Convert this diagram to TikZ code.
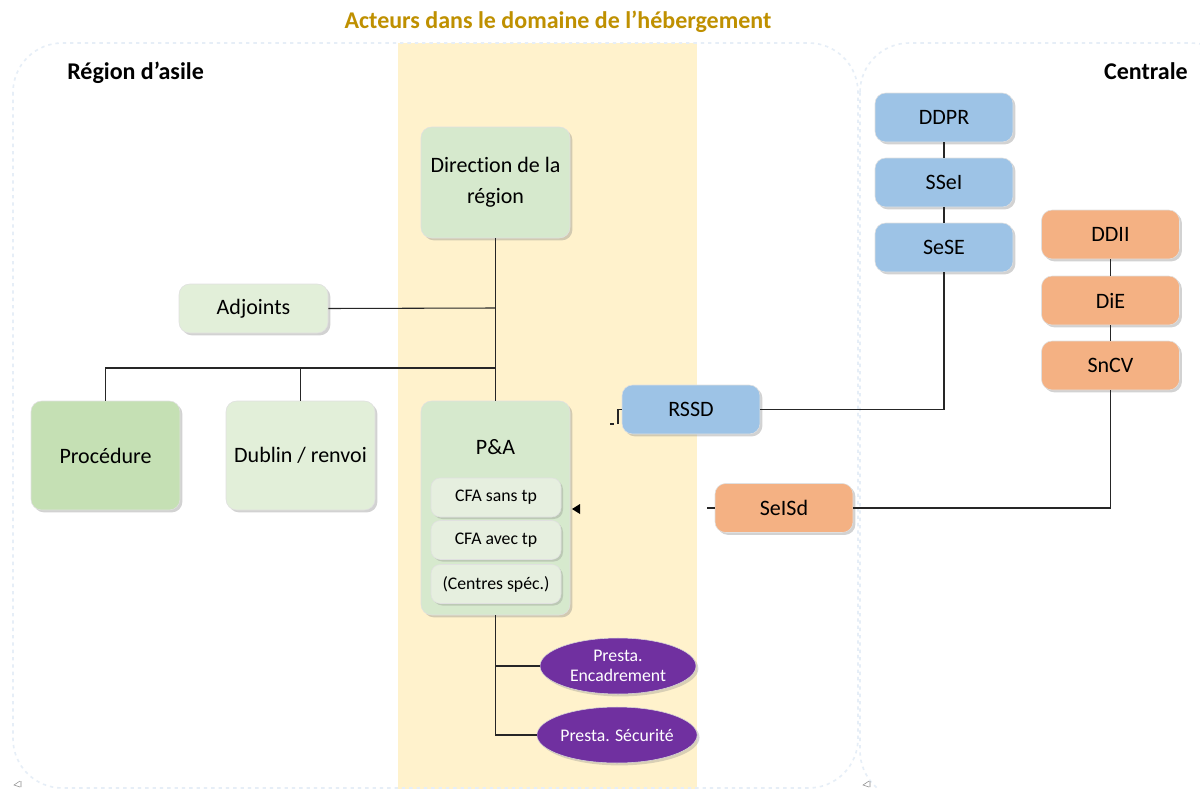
\documentclass[tikz,border=0pt]{standalone}
\usepackage{fontspec}
\setmainfont{Carlito}[Ligatures=NoCommon]
\usetikzlibrary{shapes.geometric,shadows}
\definecolor{bandY}{HTML}{FFF2CC}
\definecolor{titleC}{HTML}{BF9000}
\definecolor{regC}{HTML}{E6EEF7}
\definecolor{gMid}{HTML}{D6E9CD}
\definecolor{gLight}{HTML}{E2EFD9}
\definecolor{gDark}{HTML}{C5E0B4}
\definecolor{gSub}{HTML}{E6EFDF}
\definecolor{bBlue}{HTML}{9DC3E6}
\definecolor{oOr}{HTML}{F4B183}
\definecolor{pPur}{HTML}{7030A0}
\tikzset{
  orgbox/.style={rectangle, rounded corners=8pt, draw=black!12, line width=0.4pt,
    align=center, font=\fontsize{16.5}{20}\selectfont, inner sep=2pt,
    drop shadow={opacity=0.35, shadow xshift=1.8pt, shadow yshift=-1.8pt}},
  subbox/.style={rectangle, rounded corners=7pt, draw=black!12, line width=0.4pt, fill=gSub,
    align=center, font=\fontsize{13.3}{16}\selectfont, inner sep=1pt,
    minimum width=97.5pt, minimum height=29.25pt,
    drop shadow={opacity=0.3, shadow xshift=1.5pt, shadow yshift=-1.5pt}},
  presta/.style={ellipse, fill=pPur, draw=black!15, line width=0.4pt, text=white, align=center,
    font=\fontsize{13.3}{15}\selectfont, inner sep=0pt,
    minimum width=117pt, minimum height=42pt,
    drop shadow={opacity=0.3, shadow xshift=1.8pt, shadow yshift=-1.8pt}},
  conn/.style={draw=black!85, line width=0.8pt},
  region/.style={draw=regC, line width=1.2pt, dash pattern=on 2.5pt off 3pt, rounded corners=37pt},
  hdr/.style={font=\bfseries\fontsize{18}{22}\selectfont, inner sep=0pt}
}
\begin{document}
\begin{tikzpicture}[x=0.75pt,y=-0.75pt]
\useasboundingbox (0,0) rectangle (1200,789);
\fill[white] (0,0) rectangle (1200,789);
% yellow band
\fill[bandY] (398,43) rectangle (697,789);
% regions
\draw[region] (13,43) rectangle (858,788);
\draw[region] (860,43) rectangle (1240,800);
% tiny marks
\draw[black!45, line width=0.4pt] (20,781) -- (14,785) -- (20,787) (21,781) -- (21,787);
\draw[black!45, line width=0.4pt] (869,781) -- (863,785) -- (869,787) (870,781) -- (870,787);
% headings
\node[hdr, text=titleC] (title) at (558,22) {Acteurs dans le domaine de l’hébergement};
\node[hdr, anchor=west] (reg) at (67,73) {Région d’asile};
\node[hdr, anchor=east] (cent) at (1188,71) {Centrale};
% left nodes
\node[orgbox, fill=gMid, minimum width=111.75pt, minimum height=83.25pt] (dir) at (495.5,182.5) {Direction de la\\[3pt]région};
\node[orgbox, fill=gLight, minimum width=111.75pt, minimum height=36.75pt] (adj) at (253.5,308.5) {Adjoints};
\node[orgbox, fill=gDark, minimum width=111.75pt, minimum height=81.75pt] (proc) at (105.5,455.5) {Procédure};
\node[orgbox, fill=gLight, minimum width=111.75pt, minimum height=81.75pt] (dub) at (300.5,455.5) {Dublin / renvoi};
\node[orgbox, fill=gMid, minimum width=111.75pt, minimum height=160.5pt] (pa) at (495.5,508) {};
\node[font=\fontsize{16.5}{20}\selectfont] (palbl) at (495.5,447) {P\&A};
\node[subbox] (cfa1) at (496,497.5) {CFA sans tp};
\node[subbox] (cfa2) at (496,540) {CFA avec tp};
\node[subbox] (cfa3) at (496,584) {(Centres spéc.)};
\node[presta] (enc) at (618,666) {Presta.\\Encadrement};
\node[presta] (sec) at (617,735) {Presta. Sécurité};
% right nodes
\node[orgbox, fill=bBlue, minimum width=103.5pt, minimum height=36.75pt] (rssd) at (691,409.5) {RSSD};
\node[orgbox, fill=oOr, minimum width=103.5pt, minimum height=36.75pt] (seisd) at (784,508) {SeISd};
\node[orgbox, fill=bBlue, minimum width=103.5pt, minimum height=36.75pt] (ddpr) at (944,117.5) {DDPR};
\node[orgbox, fill=bBlue, minimum width=103.5pt, minimum height=36.75pt] (ssei) at (944,182.5) {SSeI};
\node[orgbox, fill=bBlue, minimum width=103.5pt, minimum height=36.75pt] (sese) at (944,247.5) {SeSE};
\node[orgbox, fill=oOr, minimum width=103.5pt, minimum height=36.75pt] (ddii) at (1110.5,234.5) {DDII};
\node[orgbox, fill=oOr, minimum width=103.5pt, minimum height=36.75pt] (die) at (1110.5,300.5) {DiE};
\node[orgbox, fill=oOr, minimum width=103.5pt, minimum height=36.75pt] (sncv) at (1110.5,365.5) {SnCV};
% connectors
\coordinate (j1) at (495,308);
\coordinate (j2) at (495,368);
\draw[conn] (dir.south) -- (pa.north);
\draw[conn] (adj.east) -- (j1);
\draw[conn] (j2) -| (proc.north);
\draw[conn] (dub.north) |- (j2);
\draw[conn] (pa.south) |- (enc.west);
\draw[conn] (pa.south) |- (sec.west);
\draw[conn] (ddpr.south) -- (ssei.north);
\draw[conn] (ssei.south) -- (sese.north);
\draw[conn] (sese.south) |- (rssd.east);
\draw[conn] (ddii.south) -- (die.north);
\draw[conn] (die.south) -- (sncv.north);
\draw[conn] (sncv.south) |- (seisd.east);
% stray connector fragments
\coordinate (s1) at (707,508);
\draw[conn] (s1) -- (seisd.west);
\coordinate (r1) at (610,424);
\coordinate (r2) at (614,424);
\draw[conn] (r1) -- (r2);
\coordinate (r3) at (618,424);
\draw[conn] (r3) |- (rssd.west);
\coordinate (tipA) at (572,509);
\fill[black] (tipA) -- (580,504) -- (580,514) -- cycle;
\end{tikzpicture}
\end{document}
